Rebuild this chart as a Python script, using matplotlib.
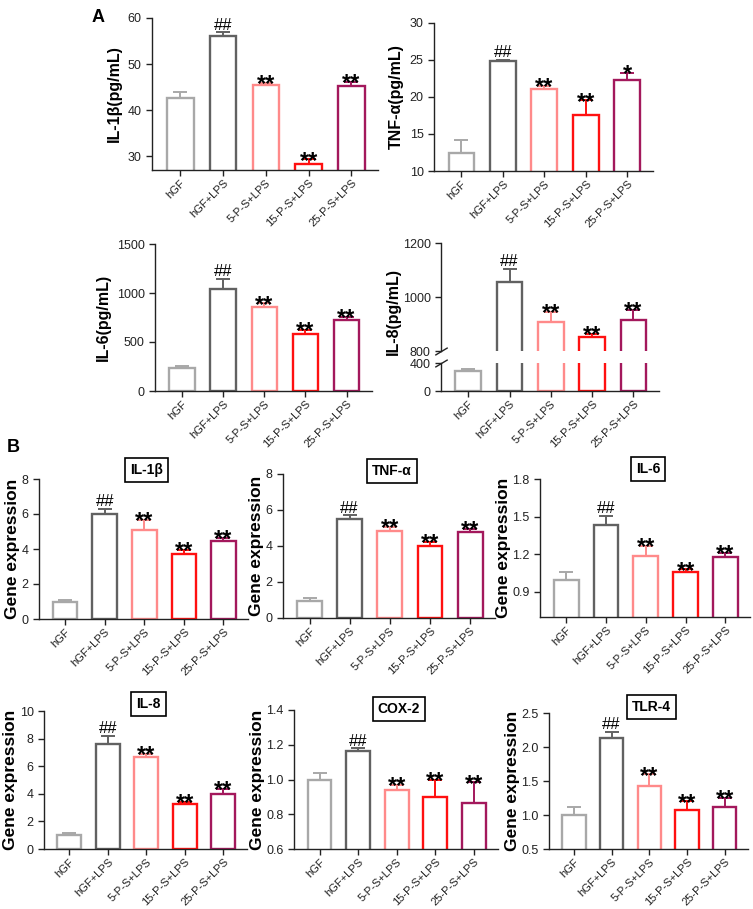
import numpy as np
import matplotlib
matplotlib.use("Agg")
import matplotlib.pyplot as plt

plt.rcParams['font.family'] = ['Liberation Sans', 'DejaVu Sans']

# groups and colours
groups = ['hGF', 'hGF+LPS', '5-P-S+LPS', '15-P-S+LPS', '25-P-S+LPS']
colors = ['#a8a8a8', '#616161', '#ff8a8a', '#ff1010', '#a3185c']

# panel A: ELISA (pg/mL)
il1b_elisa = [42.7, 56.0, 45.5, 28.2, 45.2]
il1b_elisa_err = [1.2, 0.9, 0.4, 1.1, 1.0]
tnfa_elisa = [12.4, 24.8, 21.05, 17.6, 22.3]
tnfa_elisa_err = [1.8, 0.2, 0.45, 1.95, 0.95]
il6_elisa = [231, 1041, 860, 578, 724]
il6_elisa_err = [21, 105, 35, 44, 31]
il8_elisa = [289, 1057, 909, 852, 914]
il8_elisa_err = [19, 46, 36, 11, 39]
marks_a = [['', '##', '**', '**', '**'],
           ['', '##', '**', '**', '*'],
           ['', '##', '**', '**', '**'],
           ['', '##', '**', '**', '**']]

# panel B: gene expression
il1b_gene = [1.0, 6.0, 5.07, 3.71, 4.43]
il1b_gene_err = [0.08, 0.3, 0.58, 0.24, 0.19]
tnfa_gene = [0.97, 5.52, 4.81, 3.98, 4.77]
tnfa_gene_err = [0.12, 0.18, 0.25, 0.24, 0.19]
il6_gene = [0.995, 1.437, 1.183, 1.056, 1.175]
il6_gene_err = [0.061, 0.069, 0.082, 0.024, 0.035]
il8_gene = [1.0, 7.64, 6.67, 3.24, 4.01]
il8_gene_err = [0.19, 0.55, 0.24, 0.17, 0.37]
cox2_gene = [1.0, 1.163, 0.938, 0.898, 0.865]
cox2_gene_err = [0.035, 0.016, 0.031, 0.102, 0.118]
tlr4_gene = [0.996, 2.136, 1.424, 1.08, 1.124]
tlr4_gene_err = [0.128, 0.089, 0.172, 0.123, 0.133]
marks_b = ['', '##', '**', '**', '**']

W, H = 753, 909
fig = plt.figure(figsize=(W / 100, H / 100), dpi=100)


def add_ax(l, t, r, b):
    return fig.add_axes([l / W, 1 - b / H, (r - l) / W, (b - t) / H])


def style(ax, labels=True):
    for s in ['top', 'right']:
        ax.spines[s].set_visible(False)
    ax.spines['left'].set_linewidth(1.0)
    ax.spines['bottom'].set_linewidth(1.0)
    ax.spines['left'].set_color('#222222')
    ax.spines['bottom'].set_color('#222222')
    ax.tick_params(direction='out', length=4, width=1, labelsize=9, colors='#222222')
    ax.tick_params(axis='x', pad=1.5)
    ax.set_xticks(np.arange(len(groups)))
    if labels:
        ax.set_xticklabels(groups, rotation=45, ha='right', rotation_mode='anchor', fontsize=8)
    else:
        ax.set_xticklabels([])
    ax.set_xlim(-0.66, 4.62)


def draw_bars(ax, means, errs, marks=None):
    x = np.arange(len(means))
    ax.bar(x, means, width=0.62, color='white', edgecolor=colors, linewidth=1.7, zorder=2)
    for xi, m, e, c in zip(x, means, errs, colors):
        ax.errorbar(xi, m, yerr=[[0], [e]], fmt='none', ecolor=c, elinewidth=1.4,
                    capsize=5, capthick=1.4, zorder=1)
    if marks is None:
        return
    for xi, m, e, t in zip(x, means, errs, marks):
        if not t:
            continue
        if '#' in t:
            ax.annotate(t, (xi, m + e), xytext=(0, 2), textcoords='offset points',
                        ha='center', va='baseline', fontsize=12, annotation_clip=False)
        else:
            ax.annotate(t, (xi, m + e), xytext=(0, -6), textcoords='offset points',
                        ha='center', va='baseline', fontsize=17, fontweight='bold',
                        annotation_clip=False)


# ---- panel A ----
ax = add_ax(152, 18, 378, 170)
draw_bars(ax, il1b_elisa, il1b_elisa_err, marks_a[0])
style(ax)
ax.set_ylim(27, 60)
ax.set_yticks([30, 40, 50, 60])
ax.set_ylabel('IL-1β(pg/mL)', fontsize=11.5, fontweight='bold')

ax = add_ax(434, 23, 653, 171)
draw_bars(ax, tnfa_elisa, tnfa_elisa_err, marks_a[1])
style(ax)
ax.set_ylim(10, 30)
ax.set_yticks([10, 15, 20, 25, 30])
ax.set_ylabel('TNF-α(pg/mL)', fontsize=11.5, fontweight='bold')

ax = add_ax(155, 244, 372, 391)
draw_bars(ax, il6_elisa, il6_elisa_err, marks_a[2])
style(ax)
ax.set_ylim(0, 1500)
ax.set_yticks([0, 500, 1000, 1500])
ax.set_ylabel('IL-6(pg/mL)', fontsize=11.5, fontweight='bold')

# IL-8 with broken axis
ax_up = add_ax(441, 243, 659, 351)
ax_lo = add_ax(441, 363, 659, 391)
draw_bars(ax_up, il8_elisa, il8_elisa_err, marks_a[3])
draw_bars(ax_lo, il8_elisa, il8_elisa_err)
style(ax_up, labels=False)
style(ax_lo)
ax_up.spines['bottom'].set_visible(False)
ax_up.tick_params(axis='x', length=0)
ax_up.set_ylim(800, 1200)
ax_up.set_yticks([800, 1000, 1200])
ax_lo.set_ylim(0, 400)
ax_lo.set_yticks([0, 400])
brk = dict(marker=[(-1, -0.6), (1, 0.6)], markersize=9, linestyle='none',
           color='k', mec='#222222', mew=1, clip_on=False)
ax_up.plot([0], [0], transform=ax_up.transAxes, **brk)
ax_lo.plot([0], [1], transform=ax_lo.transAxes, **brk)
fig.text(393 / W, 1 - 312 / H, 'IL-8(pg/mL)', rotation=90, ha='center', va='center',
         fontsize=11.5, fontweight='bold')

fig.text(98 / W, 1 - 18 / H, 'A', fontsize=13, fontweight='bold', ha='center', va='center')
fig.text(13 / W, 1 - 447 / H, 'B', fontsize=13, fontweight='bold', ha='center', va='center')

# ---- panel B ----
panels_b = [
    ((39, 479, 248, 619), 'IL-1β', il1b_gene, il1b_gene_err, (0, 8), [0, 2, 4, 6, 8], '%g', 470),
    ((283, 474, 495, 618), 'TNF-α', tnfa_gene, tnfa_gene_err, (0, 8), [0, 2, 4, 6, 8], '%g', 471),
    ((540, 479, 750, 617), 'IL-6', il6_gene, il6_gene_err, (0.7, 1.8), [0.9, 1.2, 1.5, 1.8], '%.1f', 469),
    ((44, 711, 247, 849), 'IL-8', il8_gene, il8_gene_err, (0, 10), [0, 2, 4, 6, 8, 10], '%g', 704),
    ((294, 710, 498, 849), 'COX-2', cox2_gene, cox2_gene_err, (0.6, 1.4), [0.6, 0.8, 1.0, 1.2, 1.4], '%.1f', 709),
    ((549, 713, 748, 849), 'TLR-4', tlr4_gene, tlr4_gene_err, (0.5, 2.5), [0.5, 1.0, 1.5, 2.0, 2.5], '%.1f', 707),
]
for box, title, vals, errs, ylim, ticks, fmt, ty in panels_b:
    ax = add_ax(*box)
    draw_bars(ax, vals, errs, marks_b)
    style(ax)
    ax.set_ylim(*ylim)
    ax.set_yticks(ticks)
    ax.set_yticklabels([fmt % t for t in ticks])
    ax.set_ylabel('Gene expression', fontsize=12.5, fontweight='bold', labelpad=1)
    cx = (box[0] + box[2]) / 2 + 3
    fig.text(cx / W, 1 - ty / H, title, ha='center', va='center', fontsize=10,
             fontweight='bold',
             bbox=dict(boxstyle='square,pad=0.35', fc='white', ec='black', lw=1.2))

fig.savefig('out.png', dpi=100)
